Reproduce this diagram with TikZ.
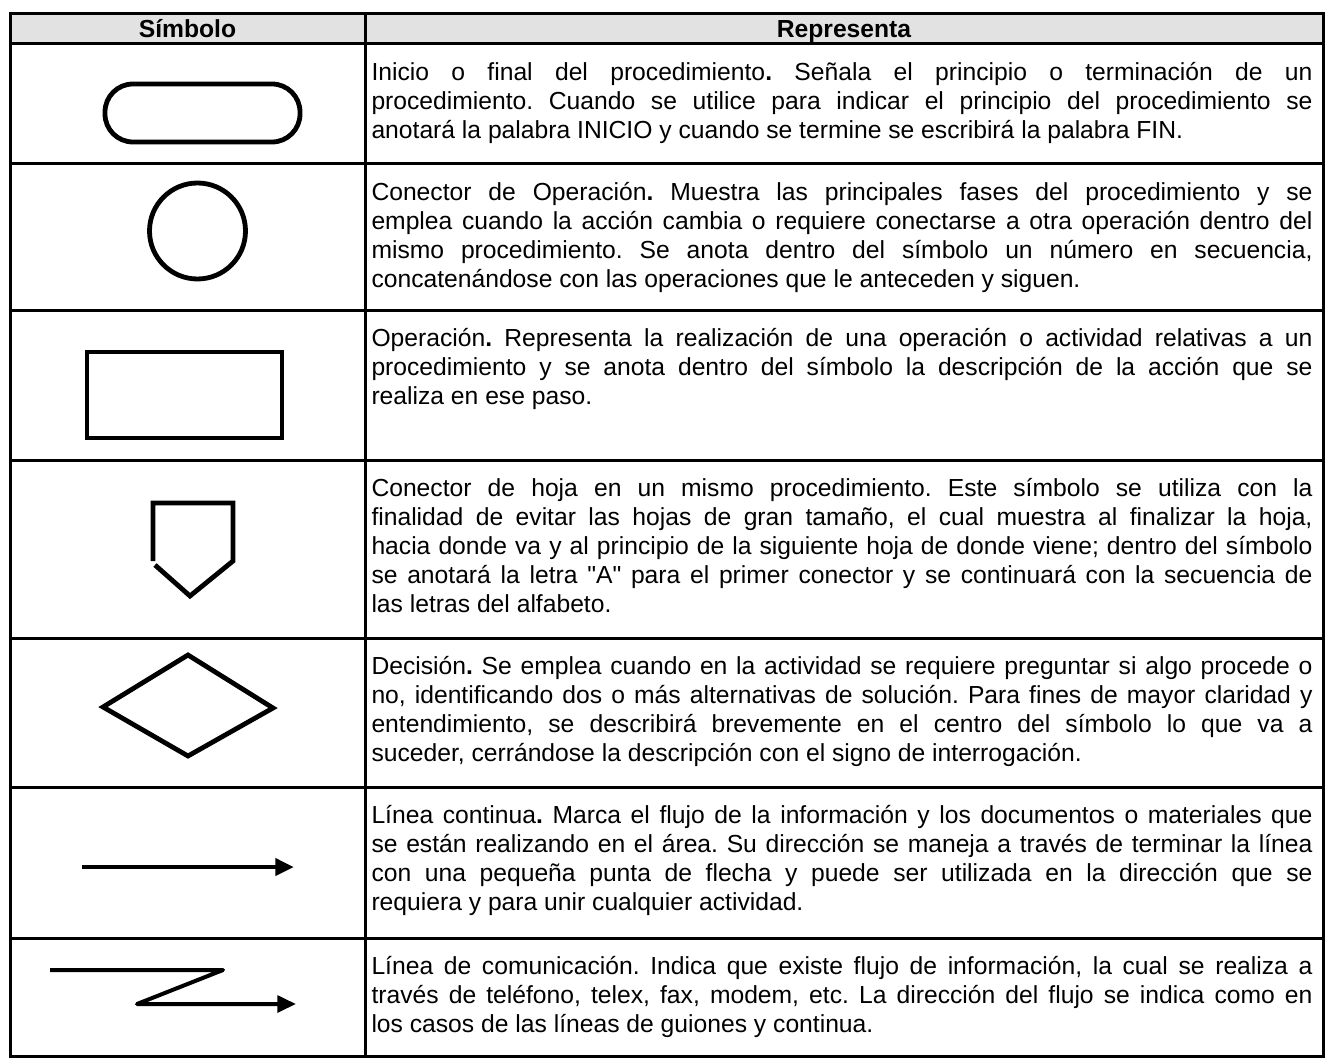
\documentclass[tikz,border=0pt]{standalone}
\usepackage{fontspec}
\setmainfont{Liberation Sans}[Ligatures=TeXOff]
\usetikzlibrary{arrows.meta}

\tikzset{every picture/.style={line width=0.75pt}}
\newcommand{\celltext}{\fontsize{18.5}{21.75}\selectfont\frenchspacing}

\begin{document}
\begin{tikzpicture}[x=0.75pt,y=0.75pt,yscale=-1,xscale=1,
  rule/.style={line width=2.25pt},
  symb/.style={line width=3.6pt},
  desc/.style={anchor=north west,inner sep=0pt,text width=705.75pt,align=justify,font=\celltext},
  headtext/.style={anchor=base,inner sep=0pt,font=\celltext\bfseries},
  flowtip/.style={-{Triangle[length=14pt,width=12.5pt]}}]
\useasboundingbox (0,0) rectangle (1326,1062);

%Shape: Header band
\fill [color={rgb, 255:red, 226; green, 226; blue, 226 }] (10,14) rectangle (1323,44);
%Shape: Table grid
\draw [rule] (10,14) rectangle (1323,1056);
\draw [rule] (365,14) -- (365,1056);
\foreach \y in {44,164,310,460,638,787,938}
  \draw [rule] (10,\y) -- (1323,\y);

% Text Node
\node [headtext] (hsym) at (187.5,37.5) {Símbolo};
% Text Node
\node [headtext] (hrep) at (844,37.5) {Representa};

%Shape: Terminal
\draw [symb, rounded corners=21pt] (105,84) rectangle (300,142);
%Shape: Circle
\draw [symb] (197.5,231) circle [radius=48];
%Shape: Rectangle
\draw [symb] (87,352) rectangle (282,438);
%Shape: Off-page connector
\draw [symb, line join=miter] (155,565) -- (190,596) -- (233,561) -- (233,503) -- (153,503) -- (153,561);
%Shape: Diamond
\draw [symb, line join=miter] (188,655) -- (273,708) -- (188,756) -- (103,707) -- cycle;

%Straight Lines
\coordinate (flowA) at (82,867);
\coordinate (flowB) at (294,867);
\draw [symb, flowtip] (flowA) -- (flowB);
%Straight Lines
\coordinate (commA) at (50,970);
\coordinate (commB) at (223,970);
\coordinate (commC) at (137,1004);
\coordinate (commD) at (296,1004);
\draw [line width=3pt, line join=round, flowtip] (commA) -- (commB) -- (commC) -- (commD);

% Text Node
\node [desc] (txt1) at (371,60) {\strut Inicio o final del procedimiento\textbf{.} Señala el principio o terminación de un\linebreak procedimiento. Cuando se utilice para indicar el principio del procedimiento se\linebreak anotará la palabra INICIO y cuando se termine se escribirá la palabra FIN.};
% Text Node
\node [desc] (txt2) at (371,180) {\strut Conector de Operación\textbf{.} Muestra las principales fases del procedimiento y se\linebreak emplea cuando la acción cambia o requiere conectarse a otra operación dentro del\linebreak mismo procedimiento. Se anota dentro del símbolo un número en secuencia,\linebreak concatenándose con las operaciones que le anteceden y siguen.};
% Text Node
\node [desc] (txt3) at (371,326) {\strut Operación\textbf{.} Representa la realización de una operación o actividad relativas a un\linebreak procedimiento y se anota dentro del símbolo la descripción de la acción que se\linebreak realiza en ese paso.};
% Text Node
\node [desc] (txt4) at (371,476) {\strut Conector de hoja en un mismo procedimiento. Este símbolo se utiliza con la\linebreak finalidad de evitar las hojas de gran tamaño, el cual muestra al finalizar la hoja,\linebreak hacia donde va y al principio de la siguiente hoja de donde viene; dentro del símbolo\linebreak se anotará la letra "A" para el primer conector y se continuará con la secuencia de\linebreak las letras del alfabeto.};
% Text Node
\node [desc] (txt5) at (371,654) {\strut Decisión\textbf{.} Se emplea cuando en la actividad se requiere preguntar si algo procede o\linebreak no, identificando dos o más alternativas de solución. Para fines de mayor claridad y\linebreak entendimiento, se describirá brevemente en el centro del símbolo lo que va a\linebreak suceder, cerrándose la descripción con el signo de interrogación.};
% Text Node
\node [desc] (txt6) at (371,803) {\strut Línea continua\textbf{.} Marca el flujo de la información y los documentos o materiales que\linebreak se están realizando en el área. Su dirección se maneja a través de terminar la línea\linebreak con una pequeña punta de flecha y puede ser utilizada en la dirección que se\linebreak requiera y para unir cualquier actividad.};
% Text Node
\node [desc] (txt7) at (371,954) {\strut Línea de comunicación. Indica que existe flujo de información, la cual se realiza a\linebreak través de teléfono, telex, fax, modem, etc. La dirección del flujo se indica como en\linebreak los casos de las líneas de guiones y continua.};

\end{tikzpicture}
\end{document}
